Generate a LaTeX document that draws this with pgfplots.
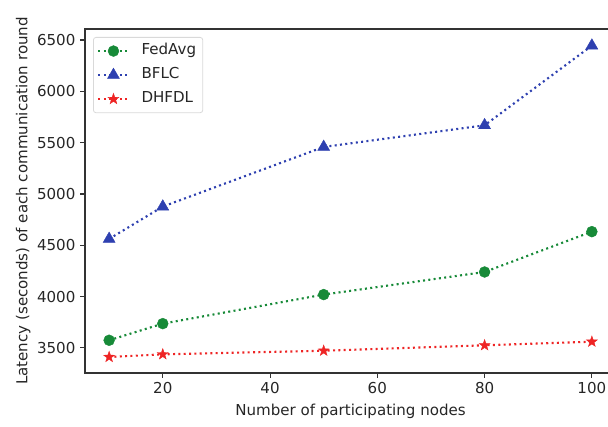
\documentclass[border=0pt]{standalone}
\usepackage{fontspec}
\setmainfont{DejaVu Sans}
\usepackage{pgfplots}
\pgfplotsset{compat=1.18}
\definecolor{cgreen}{HTML}{178A38}
\definecolor{cblue}{HTML}{2E40B0}
\definecolor{cred}{HTML}{EE2424}
\pgfdeclareplotmark{fstar}{%
  \pgfpathmoveto{\pgfpointpolar{90}{\pgfplotmarksize}}%
  \pgfpathlineto{\pgfpointpolar{126}{0.4\pgfplotmarksize}}%
  \pgfpathlineto{\pgfpointpolar{162}{\pgfplotmarksize}}%
  \pgfpathlineto{\pgfpointpolar{198}{0.4\pgfplotmarksize}}%
  \pgfpathlineto{\pgfpointpolar{234}{\pgfplotmarksize}}%
  \pgfpathlineto{\pgfpointpolar{270}{0.4\pgfplotmarksize}}%
  \pgfpathlineto{\pgfpointpolar{306}{\pgfplotmarksize}}%
  \pgfpathlineto{\pgfpointpolar{342}{0.4\pgfplotmarksize}}%
  \pgfpathlineto{\pgfpointpolar{18}{\pgfplotmarksize}}%
  \pgfpathlineto{\pgfpointpolar{54}{0.4\pgfplotmarksize}}%
  \pgfpathclose
  \pgfusepathqfillstroke}
\begin{document}
\begin{tikzpicture}
\begin{axis}[
  name=ax,
  scale only axis,
  width=398.25pt, height=258pt,
  xmin=5.5, xmax=104.5,
  ymin=3256, ymax=6607,
  xtick={20,40,60,80,100},
  ytick={3500,4000,4500,5000,5500,6000,6500},
  xtick pos=bottom, ytick pos=left,
  tick align=outside,
  major tick length=3.7pt,
  every tick/.style={black!80, line width=0.8pt},
  axis line style={black!80, line width=0.9pt},
  /pgf/number format/assume math mode=true,
  /pgf/number format/1000 sep={},
  tick label style={font=\fontsize{11.3}{13}\selectfont, text=black!85},
  label style={font=\fontsize{11.3}{13}\selectfont, text=black!85},
  xlabel={Number of participating nodes},
  ylabel={Latency (seconds) of each communication round},
  xlabel style={yshift=-1pt},
  ylabel style={yshift=-2pt},
  legend cell align=left,
  legend style={at={(0,1)}, anchor=north west, xshift=6pt, yshift=-6pt,
    draw=black!15, rounded corners=2pt, line width=0.6pt,
    font=\fontsize{11.3}{13}\selectfont, text=black!85,
    inner xsep=3pt, inner ysep=3pt, row sep=3.5pt, column sep=7pt,
    nodes={inner sep=2pt, text depth=0.25em, text height=0.8em}},
  legend image code/.code={\draw[mark repeat=2,mark phase=2] plot coordinates {(0pt,0pt)(11.25pt,0pt)(22.5pt,0pt)};},
]
\addplot[cgreen, line width=1.6pt, dash pattern=on 1.5pt off 2.5pt, mark=*, mark size=4.1pt, mark options={solid, fill=cgreen, draw=cgreen, line width=0.3pt}]
  coordinates {(10,3575) (20,3737) (50,4020) (80,4240) (100,4633)};
\addlegendentry{FedAvg}
\addplot[cblue, line width=1.6pt, dash pattern=on 1.5pt off 2.5pt, mark=triangle*, mark size=5.2pt, mark options={solid, fill=cblue, draw=cblue, line width=0.3pt}]
  coordinates {(10,4562) (20,4877) (50,5458) (80,5669) (100,6445)};
\addlegendentry{BFLC}
\addplot[cred, line width=1.6pt, dash pattern=on 1.5pt off 2.5pt, mark=fstar, mark size=4.3pt, mark options={solid, fill=cred, draw=cred, line width=0.3pt}]
  coordinates {(10,3412) (20,3438) (50,3473) (80,3526) (100,3561)};
\addlegendentry{DHFDL}
\end{axis}
\pgfresetboundingbox
\useasboundingbox ([xshift=-63.75pt,yshift=-39.75pt]ax.south west) rectangle ([xshift=-6pt,yshift=21.75pt]ax.north east);
\end{tikzpicture}
\end{document}
